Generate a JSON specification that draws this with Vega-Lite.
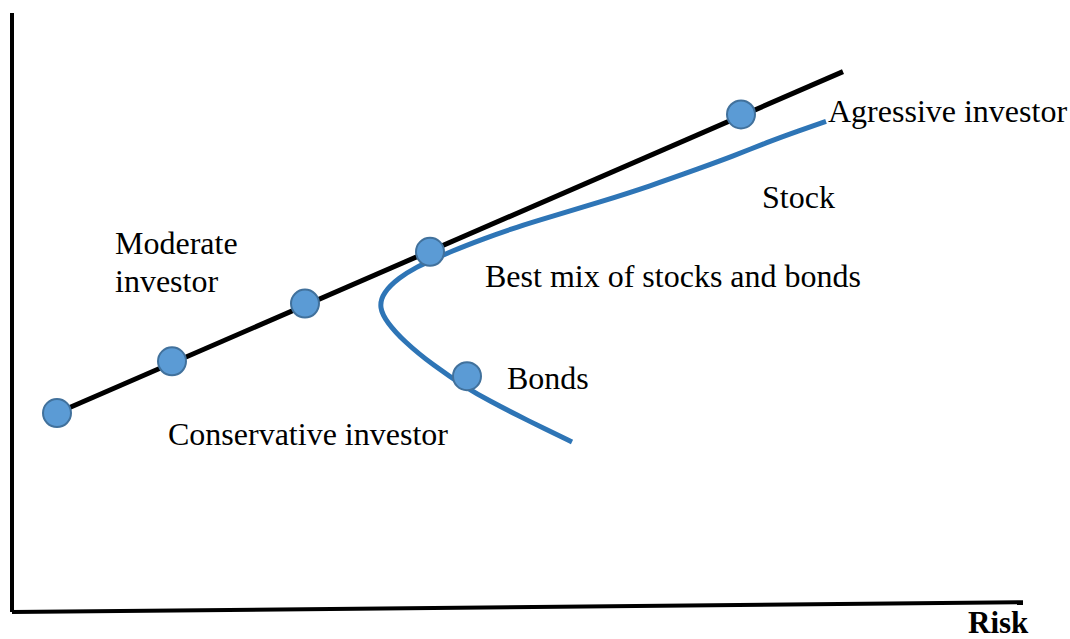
{
  "$schema": "https://vega.github.io/schema/vega-lite/v6.json",
  "width": 1070,
  "height": 639,
  "padding": 0,
  "autosize": {"type": "fit", "contains": "padding"},
  "background": "white",
  "view": {"stroke": null},
  "config": {"text": {"font": "Liberation Serif"}},
  "datasets": {
    "axes": [
      {"x": 12, "y": 626, "x2": 12, "y2": 24},
      {"x": 12, "y": 24, "x2": 1023, "y2": 34}
    ],
    "cml": [
      {"x": 57, "y": 224, "o": 1},
      {"x": 843, "y": 567, "o": 2}
    ],
    "frontier": [
      {"x": 572, "y": 195, "o": 1},
      {"x": 545, "y": 208, "o": 2},
      {"x": 517, "y": 222, "o": 3},
      {"x": 490, "y": 236, "o": 4},
      {"x": 467, "y": 249, "o": 5},
      {"x": 433, "y": 272, "o": 6},
      {"x": 404, "y": 296, "o": 7},
      {"x": 387, "y": 315, "o": 8},
      {"x": 379, "y": 330, "o": 9},
      {"x": 383, "y": 345, "o": 10},
      {"x": 399, "y": 360, "o": 11},
      {"x": 417, "y": 371, "o": 12},
      {"x": 433, "y": 378, "o": 13},
      {"x": 450, "y": 386, "o": 14},
      {"x": 483, "y": 399, "o": 15},
      {"x": 517, "y": 411, "o": 16},
      {"x": 550, "y": 421, "o": 17},
      {"x": 600, "y": 436, "o": 18},
      {"x": 650, "y": 452, "o": 19},
      {"x": 700, "y": 470, "o": 20},
      {"x": 733, "y": 482, "o": 21},
      {"x": 767, "y": 496, "o": 22},
      {"x": 800, "y": 508, "o": 23},
      {"x": 826, "y": 517, "o": 24}
    ],
    "points": [
      {"x": 57, "y": 224},
      {"x": 172, "y": 276},
      {"x": 305, "y": 334},
      {"x": 430, "y": 386},
      {"x": 741, "y": 524},
      {"x": 467, "y": 261}
    ],
    "labels": [
      {"x": 115, "y": 394, "label": "Moderate"},
      {"x": 115, "y": 356, "label": "investor"},
      {"x": 168, "y": 202, "label": "Conservative investor"},
      {"x": 485, "y": 361, "label": "Best mix of stocks and bonds"},
      {"x": 507, "y": 258, "label": "Bonds"},
      {"x": 762, "y": 440, "label": "Stock"},
      {"x": 828, "y": 526, "label": "Agressive investor"}
    ],
    "axisTitle": [
      {"x": 968, "y": 12, "label": "Risk"}
    ]
  },
  "layer": [
    {
      "data": {"name": "axes"},
      "mark": {"type": "rule", "color": "black", "strokeWidth": 4},
      "encoding": {
        "x": {"field": "x", "type": "quantitative", "scale": {"domain": [0, 1070], "nice": false, "zero": false}, "axis": null},
        "y": {"field": "y", "type": "quantitative", "scale": {"domain": [0, 639], "nice": false, "zero": false}, "axis": null},
        "x2": {"field": "x2"},
        "y2": {"field": "y2"}
      }
    },
    {
      "data": {"name": "cml"},
      "mark": {"type": "line", "color": "black", "strokeWidth": 5},
      "encoding": {
        "x": {"field": "x", "type": "quantitative"},
        "y": {"field": "y", "type": "quantitative"},
        "order": {"field": "o"}
      }
    },
    {
      "data": {"name": "frontier"},
      "mark": {"type": "line", "color": "#2E75B6", "strokeWidth": 5, "interpolate": "basis"},
      "encoding": {
        "x": {"field": "x", "type": "quantitative"},
        "y": {"field": "y", "type": "quantitative"},
        "order": {"field": "o"}
      }
    },
    {
      "data": {"name": "points"},
      "mark": {"type": "point", "shape": "circle", "filled": true, "fill": "#5B9BD5", "stroke": "#41719C", "strokeWidth": 2, "opacity": 1, "fillOpacity": 1, "size": 784},
      "encoding": {
        "x": {"field": "x", "type": "quantitative"},
        "y": {"field": "y", "type": "quantitative"}
      }
    },
    {
      "data": {"name": "labels"},
      "mark": {"type": "text", "align": "left", "baseline": "middle", "fontSize": 32, "color": "black"},
      "encoding": {
        "x": {"field": "x", "type": "quantitative"},
        "y": {"field": "y", "type": "quantitative"},
        "text": {"field": "label"}
      }
    },
    {
      "data": {"name": "axisTitle"},
      "mark": {"type": "text", "align": "left", "baseline": "middle", "fontSize": 31, "fontWeight": "bold", "color": "black"},
      "encoding": {
        "x": {"field": "x", "type": "quantitative"},
        "y": {"field": "y", "type": "quantitative"},
        "text": {"field": "label"}
      }
    }
  ]
}
